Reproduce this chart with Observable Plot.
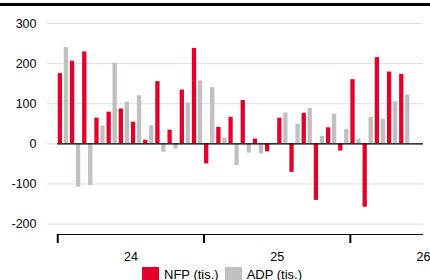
<!DOCTYPE html>
<html><head><meta charset="utf-8">
<script src="https://cdn.jsdelivr.net/npm/d3@7"></script>
<script src="https://cdn.jsdelivr.net/npm/@observablehq/plot@0.6"></script>
<style>
body{margin:0;background:#fff;font-family:Arial,"Liberation Sans",sans-serif;}
#wrap{position:relative;width:430px;height:280px;overflow:hidden;}
#chart svg{overflow:visible;}
#rule{position:absolute;left:0;top:3px;width:430px;height:3px;background:#000;}
#legend{position:absolute;left:142px;top:267px;display:flex;align-items:flex-start;font-size:13px;color:#000;white-space:nowrap;}
.sw{width:17px;height:17px;margin-right:5px;}
.item{display:flex;align-items:flex-start;margin-right:6px;}
</style></head><body>
<div id="wrap"><div id="chart"></div><div id="rule"></div><div id="legend"></div></div>
<script>
const months = ["2024-01","2024-02","2024-03","2024-04","2024-05","2024-06","2024-07","2024-08","2024-09","2024-10","2024-11","2024-12",
  "2025-01","2025-02","2025-03","2025-04","2025-05","2025-06","2025-07","2025-08","2025-09","2025-10","2025-11","2025-12",
  "2026-01","2026-02","2026-03","2026-04","2026-05"];
const nfp = [175,206,229,64,79,87,54,9,155,34,134,238,-50,41,66,108,12,-20,64,-71,76,-141,40,-18,160,-158,215,179,173];
const adp = [240,-108,-104,44,201,104,120,45,-21,-13,102,157,140,14,-54,-23,-25,2,77,49,88,19,74,36,11,66,61,105,122];
const seriesNames = ["NFP (tis.)","ADP (tis.)"];
const colors = ["#e4002b","#c3bfbe"];
const yTicks = [300,200,100,0,-100,-200];
const yearLabels = ["24","25","26"];

const yMin = -226, yMax = 300;
const xEnd = 30;
const yearStarts = months.map((m,i)=>m.endsWith("-01")?i:null).filter(v=>v!==null);
const labelRows = yearLabels.map((t,k)=>({x:(yearStarts[k] ?? yearStarts[k-1]+12)+6, t}));
const nfpRows = months.map((m,i)=>({i, v:nfp[i]}));
const adpRows = months.map((m,i)=>({i, v:adp[i]}));

const chart = Plot.plot({
  width:430, height:264,
  marginLeft:47, marginRight:7, marginTop:23, marginBottom:30,
  style:{fontFamily:"Arial, 'Liberation Sans', sans-serif", fontSize:"12.5px", color:"#000", background:"transparent", overflow:"visible"},
  x:{type:"linear", domain:[-0.84, xEnd], axis:null},
  y:{domain:[yMin, yMax], axis:null},
  marks:[
    Plot.gridY(yTicks,{stroke:"#dedede", strokeOpacity:1, strokeWidth:1}),
    Plot.axisY(yTicks,{tickSize:0, tickPadding:11, tickFormat:d=>String(d), label:null, fontSize:12.5}),
    Plot.rect(nfpRows,{x1:"i", x2:d=>d.i+1, y1:0, y2:"v", fill:colors[0], insetLeft:0.5, insetRight:7.4}),
    Plot.rect(adpRows,{x1:"i", x2:d=>d.i+1, y1:0, y2:"v", fill:colors[1], insetLeft:6.5, insetRight:1.4}),
    Plot.ruleY([0],{x1:yearStarts[0], x2:xEnd, stroke:"#000", strokeWidth:1.4}),
    Plot.ruleY([yMin],{x1:yearStarts[0], x2:xEnd, stroke:"#000", strokeWidth:1}),
    Plot.axisX(yearStarts,{tickSize:9, strokeWidth:2, tickFormat:()=>"", label:null}),
    Plot.text(labelRows,{x:"x", y:yMin, text:"t", dy:22, fontSize:12.5, fill:"#000"})
  ]
});
document.getElementById("chart").appendChild(chart);

const legend = document.getElementById("legend");
seriesNames.forEach((n,k)=>{
  const it = document.createElement("div"); it.className="item";
  const sw = document.createElement("div"); sw.className="sw"; sw.style.background=colors[k];
  const tx = document.createElement("span"); tx.textContent=n;
  it.appendChild(sw); it.appendChild(tx); legend.appendChild(it);
});
</script>
</body></html>
